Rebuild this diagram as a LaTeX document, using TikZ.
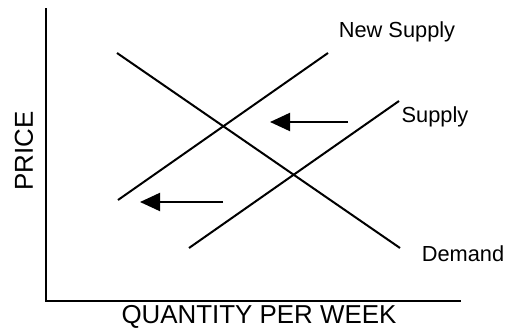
\documentclass[tikz,border=0pt]{standalone}
\usepackage{fontspec}
\setmainfont{Liberation Sans}
\usetikzlibrary{arrows.meta}
\begin{document}
\begin{tikzpicture}[x=1pt,y=-1pt,
  curve/.style={line width=2pt},
  axis/.style={line width=1.6pt},
  shiftarrow/.style={line width=2pt,-{Triangle[length=20pt,width=18pt]}},
  lbl/.style={inner sep=0pt,font=\fontsize{21.8}{26}\selectfont},
  axlbl/.style={inner sep=0pt,font=\fontsize{25.9}{30}\selectfont}]
\useasboundingbox (0,0) rectangle (511,332);
% axes
\coordinate (top) at (46,8);
\coordinate (origin) at (46,301);
\coordinate (right) at (461,301);
\draw[axis] (top) -- (origin) -- (right);
% curves
\coordinate (d1) at (117,53);
\coordinate (d2) at (400,248);
\coordinate (n1) at (118,200);
\coordinate (n2) at (328,53);
\coordinate (s1) at (189,248);
\coordinate (s2) at (399,101);
\draw[curve] (d1) -- (d2);
\draw[curve] (n1) -- (n2);
\draw[curve] (s1) -- (s2);
% arrows
\coordinate (a1s) at (348,122);
\coordinate (a1e) at (270,122);
\coordinate (a2s) at (223,202);
\coordinate (a2e) at (140,202);
\draw[shiftarrow] (a1s) -- (a1e);
\draw[shiftarrow] (a2s) -- (a2e);
% labels
\node[lbl] (newsup) at (397,32) {New Supply};
\node[lbl] (sup) at (435,117) {Supply};
\node[lbl] (dem) at (463,254) {Demand};
\node[axlbl] (qty) at (259,317) {QUANTITY PER WEEK};
\node[axlbl,rotate=90] (price) at (24,151) {PRICE};
\end{tikzpicture}
\end{document}
